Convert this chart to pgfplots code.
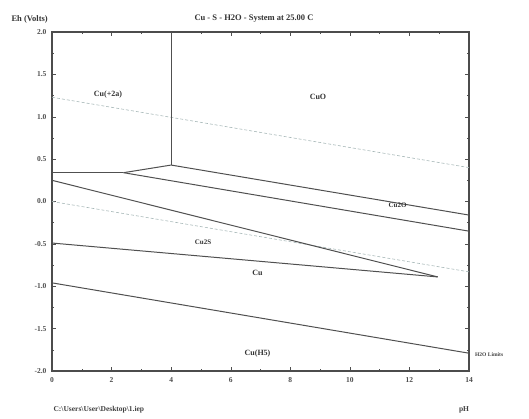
\documentclass[border=0pt]{standalone}
\usepackage{pgfplots}
\pgfplotsset{compat=1.18}
\usepackage{fontspec}
\setmainfont{Liberation Serif}
\definecolor{ln}{HTML}{505050}
\definecolor{wl}{HTML}{A8B8B8}
\begin{document}
\begin{tikzpicture}
\useasboundingbox (0pt,0pt) rectangle (529pt,418pt);
\begin{axis}[
  at={(52pt,47pt)}, anchor=south west,
  scale only axis, width=417pt, height=339pt,
  xmin=0, xmax=14, ymin=-2, ymax=2,
  xtick={0,2,...,14}, ytick={-2,-1.5,...,2},
  minor x tick num=1, minor y tick num=1,
  tick style={color=ln, line width=0.4pt},
  major tick length=4pt, minor tick length=2pt,
  axis line style={color=black!70, line width=1.8pt},
  ticklabel style={font=\fontsize{7.5}{8}\selectfont\bfseries, color=black!70},
  xticklabel style={yshift=-3pt},
  yticklabel style={xshift=-2pt, /pgf/number format/.cd, fixed, fixed zerofill, precision=1},
  /pgf/number format/assume math mode=true,
  clip=false,
]
% water limits
\addplot[wl, densely dashed, line width=0.6pt] coordinates {(0,1.23) (14,0.40)};
\addplot[wl, densely dashed, line width=0.6pt] coordinates {(0,0.0) (14,-0.83)};
% boundaries
\addplot[ln, line width=0.7pt] coordinates {(4,2.0) (4,0.43)};
\addplot[ln, line width=1.3pt] coordinates {(0,0.34) (2.4,0.34)};
\addplot[ln, line width=1.0pt] coordinates {(2.4,0.34) (4,0.43) (14,-0.16)};
\addplot[ln, line width=1.0pt] coordinates {(2.4,0.34) (14,-0.35)};
\addplot[ln, line width=1.0pt] coordinates {(0,0.25) (12.95,-0.89)};
\addplot[ln, line width=1.0pt] coordinates {(0,-0.49) (12.95,-0.89)};
\addplot[ln, line width=1.0pt] coordinates {(0,-0.96) (14,-1.79)};
% region labels
\begin{scope}[every node/.style={font=\fontsize{8}{9}\selectfont\bfseries, text=black!80}]
\node at (axis cs:1.88,1.26) {Cu(+2a)};
\node at (axis cs:8.93,1.23) {CuO};
\node[font=\fontsize{7}{8}\selectfont\bfseries] at (axis cs:11.6,-0.04) {Cu2O};
\node[font=\fontsize{7}{8}\selectfont\bfseries] at (axis cs:5.07,-0.48) {Cu2S};
\node at (axis cs:6.9,-0.84) {Cu};
\node at (axis cs:6.9,-1.79) {Cu(H5)};
\end{scope}
\end{axis}
\node[anchor=west, font=\fontsize{8.5}{9}\selectfont\bfseries, text=black!80] at (8pt,399pt) {Eh (Volts)};
\node[font=\fontsize{8.5}{9}\selectfont\bfseries, text=black!80] at (254pt,399pt) {Cu - S - H2O - System at 25.00 C};
\node[anchor=west, font=\fontsize{7.5}{8}\selectfont\bfseries, text=black!75] at (50pt,8pt) {C:\textbackslash Users\textbackslash User\textbackslash Desktop\textbackslash 1.iep};
\node[font=\fontsize{7.5}{8}\selectfont\bfseries, text=black!75] at (464pt,8pt) {pH};
\node[anchor=west, inner sep=1pt, font=\fontsize{5.5}{6}\selectfont\bfseries, text=black!75] at (474pt,63pt) {H2O Limits};
\end{tikzpicture}
\end{document}
